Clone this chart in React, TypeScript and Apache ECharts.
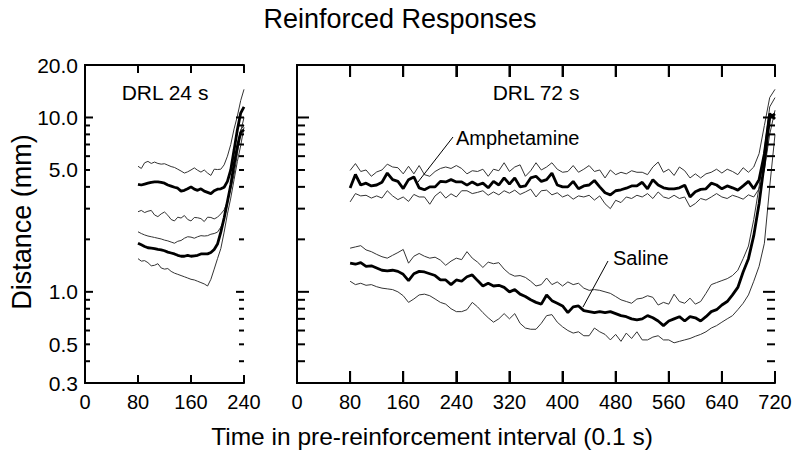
import React, { useEffect, useRef } from "react";
import * as echarts from "echarts";

const FONT = "'Liberation Sans', Arial, Helvetica, sans-serif";

// time grids (0.1 s)
const TIME_24 = [80, 85, 90, 95, 100, 105, 110, 115, 120, 125, 130, 135, 140, 145, 150, 155, 160, 165, 170, 175, 180, 185, 190, 195, 200, 205, 210, 215, 220, 225, 230, 235, 240];
const TIME_72 = [80, 88, 96, 104, 112, 120, 128, 136, 144, 152, 160, 168, 176, 184, 192, 200, 208, 216, 224, 232, 240, 248, 256, 264, 272, 280, 288, 296, 304, 312, 320, 328, 336, 344, 352, 360, 368, 376, 384, 392, 400, 408, 416, 424, 432, 440, 448, 456, 464, 472, 480, 488, 496, 504, 512, 520, 528, 536, 544, 552, 560, 568, 576, 584, 592, 600, 608, 616, 624, 632, 640, 648, 656, 664, 672, 680, 688, 696, 704, 712, 720];

// DRL 24 s panel
const AMPH24_UP = [5.25, 5.1, 5.5, 5.6, 5.45, 5.55, 5.45, 5.4, 5.43, 5.33, 5.23, 5.17, 5.05, 4.93, 4.8, 4.88, 5.0, 5.14, 4.98, 4.86, 5.0, 4.8, 4.65, 5.05, 5.03, 5.05, 5.35, 6.0, 7.0, 8.6, 10.2, 12.5, 14.5];
const AMPH24_MEAN = [4.14, 4.1, 4.15, 4.2, 4.25, 4.27, 4.27, 4.24, 4.2, 4.1, 4.04, 3.98, 3.93, 3.78, 3.82, 3.9, 4.0, 3.88, 3.82, 3.9, 3.78, 3.72, 3.66, 3.8, 3.88, 3.9, 3.98, 4.3, 5.0, 6.5, 8.5, 10.6, 11.5];
const AMPH24_LO = [2.88, 2.93, 2.85, 2.9, 2.93, 2.76, 2.7, 2.8, 2.87, 2.75, 2.6, 2.55, 2.68, 2.65, 2.74, 2.6, 2.55, 2.67, 2.66, 2.63, 2.53, 2.68, 2.67, 2.62, 2.68, 2.8, 2.95, 3.3, 3.9, 4.7, 6.2, 8.3, 10.0];
const SAL24_UP = [2.21, 2.16, 2.12, 2.09, 2.07, 2.05, 2.03, 2.01, 1.98, 1.96, 1.93, 1.9, 1.95, 1.97, 2.03, 2.07, 2.06, 2.03, 2.07, 2.1, 2.09, 2.1, 2.14, 2.16, 2.2, 2.35, 2.6, 3.2, 4.0, 5.3, 7.0, 8.5, 9.0];
const SAL24_MEAN = [1.9, 1.86, 1.82, 1.79, 1.78, 1.77, 1.75, 1.74, 1.72, 1.69, 1.67, 1.65, 1.62, 1.6, 1.6, 1.62, 1.6, 1.61, 1.62, 1.65, 1.65, 1.65, 1.68, 1.75, 1.88, 2.2, 2.65, 3.3, 4.1, 5.4, 6.8, 8.2, 8.5];
const SAL24_LO = [1.55, 1.5, 1.51, 1.47, 1.41, 1.42, 1.45, 1.37, 1.35, 1.36, 1.31, 1.28, 1.26, 1.24, 1.22, 1.2, 1.18, 1.17, 1.15, 1.13, 1.11, 1.08, 1.18, 1.35, 1.55, 1.77, 2.2, 2.8, 3.45, 4.4, 5.6, 6.9, 8.8];

// DRL 72 s panel
const AMPH72_UP = [4.97, 5.44, 4.9, 5.0, 4.6, 4.87, 5.0, 5.4, 5.2, 5.15, 4.75, 5.25, 4.75, 5.3, 4.7, 4.6, 4.9, 5.1, 5.2, 5.1, 5.3, 5.1, 4.75, 4.95, 4.9, 5.05, 4.6, 5.05, 4.95, 5.5, 4.9, 5.2, 5.35, 4.6, 4.95, 5.5, 5.0, 5.2, 5.5, 5.05, 4.85, 4.9, 5.3, 4.85, 5.05, 5.3, 4.9, 5.0, 4.5, 5.0, 4.7, 4.85, 4.75, 4.95, 4.85, 4.85, 4.7, 5.2, 5.55, 4.85, 5.05, 4.65, 5.2, 4.95, 4.5, 4.75, 4.5, 4.75, 4.85, 5.05, 4.8, 5.05, 4.9, 4.7, 5.15, 4.85, 5.2, 6.2, 9.0, 13.0, 14.5];
const AMPH72_MEAN = [3.94, 4.71, 4.1, 4.2, 4.05, 4.1, 4.25, 4.8, 4.4, 4.3, 3.91, 4.4, 4.56, 3.95, 3.85, 4.0, 4.0, 4.3, 4.27, 4.4, 4.27, 4.27, 4.09, 4.27, 4.1, 4.2, 3.95, 4.3, 4.1, 4.5, 4.15, 4.5, 4.0, 4.05, 4.5, 4.6, 4.3, 4.4, 4.8, 4.1, 4.0, 4.0, 4.3, 3.9, 4.05, 4.1, 4.35, 4.0, 3.7, 3.6, 3.8, 3.85, 3.93, 4.05, 4.05, 4.25, 3.9, 4.4, 4.1, 3.95, 3.9, 3.9, 3.95, 4.09, 3.5, 3.75, 3.87, 3.9, 4.2, 4.1, 3.9, 4.05, 3.95, 3.83, 4.05, 4.3, 3.9, 4.4, 6.2, 10.5, 9.8];
const AMPH72_LO = [3.28, 3.66, 3.55, 3.58, 3.45, 3.55, 3.45, 3.8, 3.55, 3.38, 3.5, 3.3, 3.62, 3.5, 3.5, 3.18, 3.55, 3.75, 3.45, 3.65, 3.5, 3.8, 3.8, 3.66, 3.72, 3.8, 3.58, 3.74, 3.6, 3.8, 3.68, 3.83, 3.62, 3.74, 3.88, 3.5, 3.8, 3.83, 3.6, 3.7, 3.5, 3.6, 3.4, 3.55, 3.5, 3.58, 3.36, 3.55, 3.2, 3.0, 3.35, 3.25, 3.5, 3.43, 3.58, 3.5, 3.66, 3.43, 3.74, 3.5, 3.43, 3.58, 3.43, 3.5, 3.07, 3.21, 3.43, 3.36, 3.5, 3.66, 3.5, 3.43, 3.58, 3.5, 3.4, 3.6, 3.5, 3.9, 5.0, 8.0, 11.0];
const SAL72_UP = [1.78, 1.81, 1.84, 1.74, 1.7, 1.64, 1.59, 1.56, 1.62, 1.68, 1.75, 1.46, 1.6, 1.66, 1.6, 1.56, 1.58, 1.52, 1.42, 1.5, 1.56, 1.53, 1.7, 1.56, 1.48, 1.38, 1.48, 1.45, 1.47, 1.35, 1.27, 1.23, 1.24, 1.21, 1.15, 1.08, 1.1, 1.2, 1.1, 1.14, 1.08, 1.14, 1.1, 1.12, 1.05, 1.02, 1.03, 1.02, 1.0, 0.98, 0.94, 0.9, 0.88, 0.86, 0.91, 0.92, 0.95, 0.93, 0.84, 0.87, 0.85, 0.97, 0.88, 0.86, 0.92, 0.85, 0.88, 0.98, 1.1, 1.13, 1.16, 1.19, 1.24, 1.33, 1.55, 1.83, 2.6, 4.0, 6.5, 11.5, 13.0];
const SAL72_MEAN = [1.46, 1.44, 1.47, 1.4, 1.41, 1.37, 1.33, 1.32, 1.33, 1.31, 1.26, 1.16, 1.27, 1.31, 1.3, 1.27, 1.24, 1.17, 1.17, 1.1, 1.17, 1.15, 1.22, 1.25, 1.16, 1.08, 1.12, 1.08, 1.09, 1.06, 1.0, 1.03, 0.97, 0.94, 0.9, 0.87, 0.85, 0.96, 0.89, 0.86, 0.83, 0.76, 0.82, 0.83, 0.78, 0.77, 0.76, 0.77, 0.76, 0.77, 0.75, 0.73, 0.72, 0.7, 0.69, 0.7, 0.73, 0.71, 0.68, 0.64, 0.68, 0.7, 0.72, 0.68, 0.72, 0.71, 0.68, 0.72, 0.77, 0.79, 0.84, 0.88, 0.96, 1.06, 1.3, 1.55, 2.1, 3.2, 5.5, 10.0, 10.5];
const SAL72_LO = [1.15, 1.1, 1.12, 1.09, 1.1, 1.07, 1.05, 1.04, 1.03, 1.0, 0.95, 0.87, 0.91, 0.96, 0.97, 0.95, 0.91, 0.87, 0.85, 0.8, 0.77, 0.77, 0.79, 0.87, 0.82, 0.76, 0.71, 0.67, 0.7, 0.75, 0.7, 0.75, 0.66, 0.62, 0.61, 0.61, 0.66, 0.73, 0.74, 0.67, 0.63, 0.6, 0.58, 0.59, 0.56, 0.56, 0.62, 0.59, 0.57, 0.53, 0.57, 0.52, 0.58, 0.54, 0.59, 0.53, 0.53, 0.55, 0.56, 0.53, 0.53, 0.51, 0.52, 0.53, 0.54, 0.556, 0.57, 0.59, 0.62, 0.64, 0.67, 0.7, 0.73, 0.79, 0.86, 0.96, 1.15, 1.4, 1.9, 4.0, 8.0];

// axes
const Y_LABELS = [0.3, 0.5, 1, 5, 10, 20];
const Y_MAJOR_TICKS = [1, 10];
const Y_MINOR_TICKS = [0.4, 0.5, 0.6, 0.7, 0.8, 0.9, 2, 3, 4, 5, 6, 7, 8, 9];
const Y_MIN = 0.3;
const Y_MAX = 20;
const X_MAX_24 = 240;
const X_MAX_72 = 720;
const X_TICKS_24 = [80, 160];
const X_TICKS_72 = [80, 160, 240, 320, 400, 480, 560, 640];

const pairs = (xs: number[], ys: number[]) => xs.map((x, i) => [x, ys[i]]);

function yAxis(grid: number, position: "left" | "right", labels: boolean) {
  return {
    type: "log",
    logBase: 10,
    gridIndex: grid,
    position,
    min: Y_MIN,
    max: Y_MAX,
    axisLine: { show: true, lineStyle: { color: "#000", width: 2 } },
    axisTick: { show: false },
    axisLabel: labels
      ? { show: true, customValues: Y_LABELS, formatter: (v: number) => Number(v).toFixed(1), fontSize: 21, color: "#000", fontFamily: FONT, margin: 7 }
      : { show: false },
    splitLine: { show: false },
    minorTick: { show: false },
  };
}

function xAxis(grid: number, top: boolean, max: number, len: number) {
  const ax: any = {
    type: "value",
    gridIndex: grid,
    min: 0,
    max,
    interval: 80,
    axisLine: { show: true, lineStyle: { color: "#000", width: 2 } },
    axisTick: { show: true, inside: true, length: len, lineStyle: { color: "#000", width: 2 } },
    axisLabel: top ? { show: false } : { show: true, fontSize: 20, color: "#000", fontFamily: FONT, margin: 9 },
    splitLine: { show: true, lineStyle: { opacity: 0 } },
  };
  if (top) ax.position = "top";
  return ax;
}

function line(name: string, xi: number, yi: number, xs: number[], ys: number[], thick: boolean) {
  return {
    name,
    type: "line",
    xAxisIndex: xi,
    yAxisIndex: yi,
    data: pairs(xs, ys),
    showSymbol: false,
    symbol: "none",
    smooth: false,
    lineStyle: { color: thick ? "#000" : "#333", width: thick ? 2.8 : 1 },
    z: thick ? 3 : 2,
  };
}

export default function App() {
  const ref = useRef<HTMLDivElement>(null);
  useEffect(() => {
    if (!ref.current) return;
    const chart = echarts.init(ref.current, undefined, { renderer: "svg" });
    chart.setOption({
      animation: false,
      grid: [
        { left: 85, top: 65, width: 159, height: 318, containLabel: false },
        { left: 297, top: 65, width: 478, height: 318, containLabel: false },
      ],
      xAxis: [xAxis(0, false, X_MAX_24, 8), xAxis(0, true, X_MAX_24, 8), xAxis(1, false, X_MAX_72, 12), xAxis(1, true, X_MAX_72, 12)],
      yAxis: [yAxis(0, "left", true), yAxis(0, "right", false), yAxis(1, "left", false), yAxis(1, "right", false)],
      series: [
        line("Amphetamine 24 upper", 0, 0, TIME_24, AMPH24_UP, false),
        line("Amphetamine 24 mean", 0, 0, TIME_24, AMPH24_MEAN, true),
        line("Amphetamine 24 lower", 0, 0, TIME_24, AMPH24_LO, false),
        line("Saline 24 upper", 0, 0, TIME_24, SAL24_UP, false),
        line("Saline 24 mean", 0, 0, TIME_24, SAL24_MEAN, true),
        line("Saline 24 lower", 0, 0, TIME_24, SAL24_LO, false),
        line("Amphetamine 72 upper", 2, 2, TIME_72, AMPH72_UP, false),
        line("Amphetamine 72 mean", 2, 2, TIME_72, AMPH72_MEAN, true),
        line("Amphetamine 72 lower", 2, 2, TIME_72, AMPH72_LO, false),
        line("Saline 72 upper", 2, 2, TIME_72, SAL72_UP, false),
        line("Saline 72 mean", 2, 2, TIME_72, SAL72_MEAN, true),
        line("Saline 72 lower", 2, 2, TIME_72, SAL72_LO, false),
      ],
    });

    // tick marks placed through the axes' own scales, drawn as thin filled bars
    const ticks: any[] = [];
    const px = (xi: number, yi: number, v: number[]) => chart.convertToPixel({ xAxisIndex: xi, yAxisIndex: yi } as any, v) as unknown as number[];
    const bar = (x: number, y: number, w: number, h: number) => ({ type: "rect", z: 9, shape: { x, y, width: w, height: h }, style: { fill: "#000" } });
    const panel = (xi: number, yi: number, xMax: number, xTicks: number[], majorLen: number, minorLen: number, xLen: number) => {
      const addY = (v: number, len: number) => {
        const l = px(xi, yi, [0, v]);
        const r = px(xi, yi, [xMax, v]);
        ticks.push(bar(l[0], l[1] - 1, len, 2));
        ticks.push(bar(r[0] - len, r[1] - 1, len, 2));
      };
      Y_MAJOR_TICKS.forEach((v) => addY(v, majorLen));
      Y_MINOR_TICKS.forEach((v) => addY(v, minorLen));
      xTicks.forEach((t) => {
        const b = px(xi, yi, [t, Y_MIN]);
        const u = px(xi, yi, [t, Y_MAX]);
        ticks.push(bar(b[0] - 1, b[1] - xLen, 2, xLen));
        ticks.push(bar(u[0] - 1, u[1], 2, xLen));
      });
    };
    panel(0, 0, X_MAX_24, X_TICKS_24, 8, 5, 8);
    panel(2, 2, X_MAX_72, X_TICKS_72, 12, 8, 12);

    const txt = (text: string, x: number, y: number, size: number, align = "center", rotation = 0) => ({
      type: "text",
      x,
      y,
      rotation,
      style: { text, fontSize: size, fontFamily: FONT, fill: "#000", textAlign: align, textVerticalAlign: "middle" },
      z: 10,
    });
    const leader = (x1: number, y1: number, x2: number, y2: number) => ({ type: "line", z: 10, shape: { x1, y1, x2, y2 }, style: { stroke: "#000", lineWidth: 1 } });
    chart.setOption({
      graphic: [
        txt("Reinforced Responses", 400, 19, 27),
        txt("Distance (mm)", 22, 222, 27, "center", Math.PI / 2),
        txt("Time in pre-reinforcement interval (0.1 s)", 432, 436, 24.5),
        txt("DRL 24 s", 165, 92, 21),
        txt("DRL 72 s", 536, 92, 21),
        txt("Amphetamine", 456, 138, 20, "left"),
        txt("Saline", 613, 258, 20, "left"),
        leader(453, 137, 418, 182),
        leader(608, 261, 583, 307),
        ...ticks,
      ],
    });
    return () => chart.dispose();
  }, []);
  return <div ref={ref} style={{ position: "fixed", left: 0, top: 0, width: 800, height: 456, background: "#fff" }} />;
}
